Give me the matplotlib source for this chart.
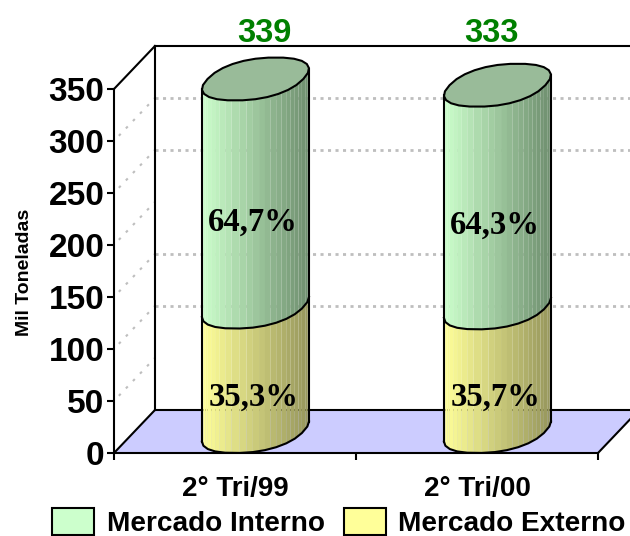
import numpy as np
import matplotlib
matplotlib.use("Agg")
import matplotlib.pyplot as plt
from matplotlib.colors import to_rgb
from matplotlib.patches import Patch, Polygon

categories = ["2° Tri/99", "2° Tri/00"]
totals = [339, 333]
interno_pct = [64.7, 64.3]
externo_pct = [35.3, 35.7]
total_labels = ["339", "333"]
y_ticks = [0, 50, 100, 150, 200, 250, 300, 350]
wall_grid = [100, 150, 250, 300]

# oblique depth of the box, in data units
DEPTH_X = 0.169
DEPTH_Y = 41.3
HALF_W = 0.198
ROUNDNESS = 0.88
N_STRIPS = 26

GREEN = ("#CCFFCC", "#6E8E6E")
YELLOW = ("#FFFF99", "#96965C")
TOP_GREEN = "#99BB99"
FLOOR = "#CCCCFF"
GRID = "#BEBEBE"

plt.rcParams["font.family"] = ["Liberation Sans", "DejaVu Sans"]
plt.rcParams["font.weight"] = "bold"


def ring(cx, level, angles):
    # squared-off ellipse, the column section is fatter than a true circle
    c = np.sign(np.cos(angles)) * np.abs(np.cos(angles)) ** ROUNDNESS
    s = np.sign(np.sin(angles)) * np.abs(np.sin(angles)) ** ROUNDNESS
    x = cx + DEPTH_X / 2 + HALF_W * c + DEPTH_X / 2 * s
    y = level + DEPTH_Y / 2 + DEPTH_Y / 2 * s
    return x, y


def draw_section(ax, cx, low, high, colors, z):
    c0 = np.array(to_rgb(colors[0]))
    c1 = np.array(to_rgb(colors[1]))
    fine = np.linspace(0, np.pi / 2, 200)
    t0 = fine[np.argmax(ring(0, 0, fine)[0])]
    angles = np.linspace(t0 + np.pi, t0 + 2 * np.pi, N_STRIPS + 1)
    xl, yl = ring(cx, low, angles)
    xh, yh = ring(cx, high, angles)
    span = xl.max() - xl.min()
    for i in range(N_STRIPS):
        frac = ((xl[i] + xl[i + 1]) / 2 - xl.min()) / span
        pts = [(xl[i], yl[i]), (xl[i + 1], yl[i + 1]), (xh[i + 1], yh[i + 1]), (xh[i], yh[i])]
        ax.add_patch(Polygon(pts, closed=True, fc=c0 + (c1 - c0) * frac, ec="none",
                             clip_on=False, zorder=z))
    return xl, yl, xh, yh


def draw_column(ax, cx, total, lower):
    xl, yl, xh, yh = draw_section(ax, cx, 0, lower, YELLOW, 3)
    xl2, yl2, xh2, yh2 = draw_section(ax, cx, lower, total, GREEN, 3)
    # coarse outline, the rim is a rough polygon rather than a smooth ellipse
    ax.plot(xl[::2], yl[::2], color="k", lw=1.5, clip_on=False, zorder=5)
    ax.plot(xh[::2], yh[::2], color="k", lw=1.5, clip_on=False, zorder=5)
    for i in (0, -1):
        ax.plot([xl[i], xh2[i]], [yl[i], yh2[i]], color="k", lw=1.5, clip_on=False, zorder=5)
    angles = np.linspace(0, 2 * np.pi, 27)
    xt, yt = ring(cx, total, angles)
    ax.add_patch(Polygon(np.column_stack([xt, yt]), closed=True, fc=TOP_GREEN, ec="k", lw=1.5,
                         clip_on=False, zorder=6))


fig = plt.figure(figsize=(6.3, 5.36), dpi=100)
ax = fig.add_axes([114 / 630, 83 / 536, 484 / 630, 364 / 536])
ax.set_xlim(0, 2)
ax.set_ylim(0, 350)
ax.patch.set_visible(False)

right = 2.3
ax.add_patch(Polygon([(0, 0), (2, 0), (2 + DEPTH_X, DEPTH_Y), (right, DEPTH_Y), (DEPTH_X, DEPTH_Y)],
                     closed=True, fc=FLOOR, ec="none", clip_on=False, zorder=1))

# dotted grid on the back and side walls
for v in wall_grid:
    ax.plot([DEPTH_X, right], [v + DEPTH_Y] * 2, color=GRID, lw=2, ls=(0, (1.1, 1.6)),
            clip_on=False, zorder=2)
for v in y_ticks[1:-1]:
    ax.plot([0.02, DEPTH_X], [v + 5, v + DEPTH_Y], color=GRID, lw=1.5, ls=(0, (1.3, 3.6)),
            clip_on=False, zorder=2)

# box frame
frame = dict(color="k", lw=1.5, clip_on=False, zorder=2.5)
ax.plot([DEPTH_X, DEPTH_X], [DEPTH_Y, 350 + DEPTH_Y], **frame)
ax.plot([DEPTH_X, right], [350 + DEPTH_Y] * 2, **frame)
ax.plot([DEPTH_X, right], [DEPTH_Y] * 2, **frame)
ax.plot([0, DEPTH_X], [350, 350 + DEPTH_Y], **frame)
ax.plot([0, DEPTH_X], [0, DEPTH_Y], **frame)
ax.plot([2, 2 + DEPTH_X], [0, DEPTH_Y], **frame)

label_shift = [0.12, 0.06]
for i in range(len(categories)):
    cx = i + 0.5
    lower = totals[i] * externo_pct[i] / 100
    draw_column(ax, cx, totals[i], lower)
    mid_x = cx + 0.075
    ax.text(cx + label_shift[i], 403, total_labels[i], color="#008000",
            fontsize=23.5, ha="center", va="center", clip_on=False)
    ax.text(mid_x, lower + totals[i] * interno_pct[i] / 200 - 7, f"{interno_pct[i]:.1f}%".replace(".", ","),
            family="Liberation Serif", fontsize=23.5, ha="center", va="center", zorder=7)
    ax.text(mid_x, lower / 2 - 6, f"{externo_pct[i]:.1f}%".replace(".", ","),
            family="Liberation Serif", fontsize=23.5, ha="center", va="center", zorder=7)

for side in ("top", "right"):
    ax.spines[side].set_visible(False)
for side in ("left", "bottom"):
    ax.spines[side].set_linewidth(1.5)
    ax.spines[side].set_zorder(8)
ax.set_yticks(y_ticks)
ax.tick_params(axis="y", labelsize=24, width=1.5, length=5, pad=2)
ax.set_xticks([0, 1, 2])
ax.set_xticklabels([])
ax.tick_params(axis="x", width=1.5, length=5)
ax.set_xticks([0.5, 1.5], categories, minor=True)
ax.tick_params(axis="x", which="minor", length=0, labelsize=20, pad=16.5)
ax.set_ylabel("Mil Toneladas", fontsize=14, fontweight="bold")
ax.yaxis.set_label_coords(-0.168, 0.497)

handles = [Patch(fc=GREEN[0], ec="k", lw=1.5), Patch(fc=YELLOW[0], ec="k", lw=1.5)]
fig.legend(handles, ["Mercado Interno", "Mercado Externo"], ncol=2, frameon=False, fontsize=20.2,
           handlelength=1.5, handleheight=1.1, handletextpad=0.46, columnspacing=0.66,
           loc="lower left", bbox_to_anchor=(52 / 630, -1 / 536), borderaxespad=0, borderpad=0)

fig.savefig("out.png", dpi=100)
